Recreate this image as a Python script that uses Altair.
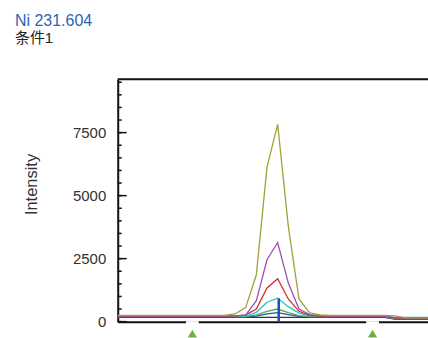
import altair as alt
import pandas as pd

# ---- data ----
idx = list(range(31))
olive  = [250]*11 + [305, 555, 1860, 6130, 7830, 3780, 900, 345, 270] + [250]*6 + [230] + [150]*4
purple = [230]*12 + [260, 830, 2455, 3140, 1530, 500, 280, 240] + [230]*6 + [150]*5
red    = [220]*12 + [270, 500, 1335, 1700, 900, 410, 250] + [220]*7 + [140]*5
cyan   = [210]*12 + [220, 370, 770, 930, 595, 340, 230] + [210]*7 + [170]*5
green  = [200]*13 + [270, 410, 500, 355, 240] + [200]*8 + [130]*5
blue   = [190]*13 + [220, 305, 355, 275, 210] + [190]*8 + [110]*5
dark   = [170]*26 + [100]*5

series = [
    ("dark", dark, "#33334d"),
    ("blue", blue, "#2a4fb0"),
    ("green", green, "#4bb04a"),
    ("cyan", cyan, "#2cc0c8"),
    ("red", red, "#d42a2a"),
    ("purple", purple, "#a24db3"),
    ("olive", olive, "#a3a035"),
]

y_major = [0, 2500, 5000, 7500]
y_minor = list(range(0, 10000, 500))
y_max = 9620
x_max = 29.1

marker_x = [15.1]
marker_y = [920]
tri_x = [7.0, 23.9]

W, H = 311, 243

xs = alt.Scale(domain=[0, x_max], nice=False, zero=False)
ys = alt.Scale(domain=[0, y_max], nice=False)

layers = []
for name, vals, col in series:
    df = pd.DataFrame({"x": idx, "y": vals})
    layers.append(
        alt.Chart(df).mark_line(color=col, strokeWidth=1.3, clip=True).encode(
            x=alt.X("x:Q", scale=xs,
                    axis=alt.Axis(title=None, labels=False, ticks=False, grid=False,
                                  domainColor="#111", domainWidth=2)),
            y=alt.Y("y:Q", scale=ys,
                    axis=alt.Axis(title="Intensity", values=y_major, format="d", grid=False, ticks=False,
                                  labelPadding=12, domainColor="#111", domainWidth=2,
                                  titleX=-86, titleY=105, titleAngle=270,
                                  titleBaseline="middle", titleAlign="center")),
        )
    )

minor = alt.Chart(pd.DataFrame({"v": y_minor})).mark_rule(color="#111", strokeWidth=1.5).encode(
    y=alt.Y("v:Q", scale=ys), x=alt.value(0), x2=alt.value(4))
major = alt.Chart(pd.DataFrame({"v": y_major})).mark_rule(color="#111", strokeWidth=1.5).encode(
    y=alt.Y("v:Q", scale=ys), x=alt.value(0), x2=alt.value(9))
top = alt.Chart(pd.DataFrame({"a": [0]})).mark_rule(color="#111", strokeWidth=2).encode(
    x=alt.value(0), x2=alt.value(W), y=alt.value(0))

mk = alt.Chart(pd.DataFrame({"x": marker_x, "y": marker_y, "y0": [0]})).mark_rule(
    color="#1f50b5", strokeWidth=2.5).encode(
    x=alt.X("x:Q", scale=xs), y=alt.Y("y0:Q", scale=ys), y2="y:Q")

gap_df = pd.DataFrame({"x": [t - 0.6 for t in tri_x], "x2": [t + 0.6 for t in tri_x]})
gaps = alt.Chart(gap_df).mark_rule(color="white", strokeWidth=3).encode(
    x=alt.X("x:Q", scale=xs), x2="x2:Q", y=alt.value(H + 1))
tris = alt.Chart(pd.DataFrame({"x": tri_x})).mark_point(
    shape="triangle-up", filled=True, color="#6db33f", size=85, opacity=1).encode(
    x=alt.X("x:Q", scale=xs), y=alt.value(H + 12))

chart = alt.layer(minor, major, *layers, mk, top, gaps, tris).properties(
    width=W, height=H,
    autosize=alt.AutoSizeParams(type="none"),
    padding={"left": 118, "top": 79, "right": 0, "bottom": 16},
    title=alt.Title(text="Ni 231.604", subtitle="条件1", anchor="start", frame="group",
                    dx=-103, offset=32, color="#2e62b5", fontSize=16, fontWeight="normal",
                    font="Liberation Sans", subtitleFont="Liberation Sans, Noto Sans CJK SC",
                    subtitleColor="#222", subtitleFontSize=15, subtitlePadding=2),
).configure_view(stroke=None).configure_axis(
    labelFont="Liberation Sans", labelFontSize=15, labelColor="#333",
    titleFont="Liberation Sans", titleFontSize=16.5, titleColor="#333", titleFontWeight="normal",
)

chart.save("out.html", embed_options={"renderer": "svg", "actions": False})
